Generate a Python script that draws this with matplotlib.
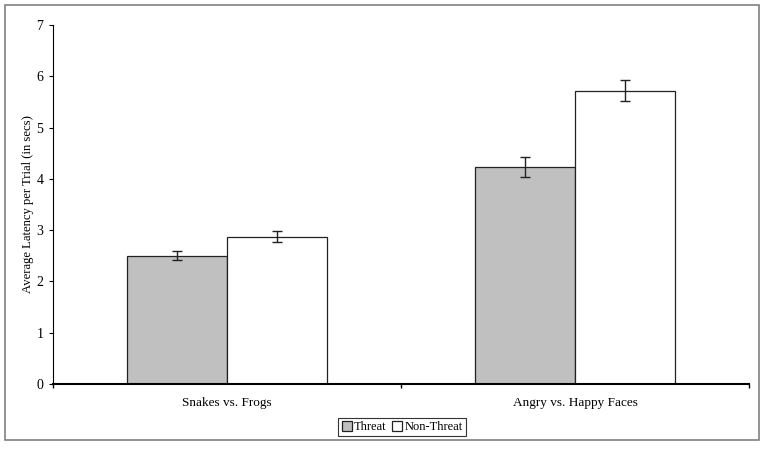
import matplotlib
matplotlib.use("Agg")
import matplotlib.pyplot as plt
from matplotlib.patches import Rectangle
import numpy as np

categories = ["Snakes vs. Frogs", "Angry vs. Happy Faces"]
series = ["Threat", "Non-Threat"]
threat = [2.50, 4.23]
nonthreat = [2.87, 5.72]
threat_err = [0.09, 0.20]
nonthreat_err = [0.11, 0.20]

plt.rcParams['font.family'] = ['Liberation Serif', 'DejaVu Serif']

fig = plt.figure(figsize=(7.64, 4.49), dpi=100)
ax = fig.add_axes([53/764, 65/449, 696/764, 359/449])

x = np.arange(len(categories)) + 0.5
w = 100/348
ax.bar(x - w/2, threat, w, color="#c0c0c0", edgecolor="#222222", linewidth=0.9, label=series[0],
       yerr=threat_err, error_kw=dict(ecolor="#222222", elinewidth=1.0, capsize=3.5, capthick=1.0))
ax.bar(x + w/2, nonthreat, w, color="white", edgecolor="#222222", linewidth=0.9, label=series[1],
       yerr=nonthreat_err, error_kw=dict(ecolor="#222222", elinewidth=1.0, capsize=3.5, capthick=1.0))

ax.set_xlim(0, 2)
ax.set_ylim(0, 7)
ax.set_yticks(range(0, 8))
ax.set_xticks(x)
ax.set_xticklabels(categories, fontsize=9.5)
ax.set_xticks([0, 1, 2], minor=True)
ax.tick_params(axis='x', which='major', length=0, pad=9.5)
ax.tick_params(axis='x', which='minor', length=3, width=1, direction='out')
ax.tick_params(axis='y', length=3, width=0.8, direction='out', labelsize=10, pad=4)
for s in ["top", "right"]:
    ax.spines[s].set_visible(False)
ax.spines["left"].set_linewidth(0.8)
ax.spines["bottom"].set_linewidth(1.5)
ax.set_ylabel("Average Latency per Trial (in secs)", fontsize=9.1, labelpad=1.5)

leg = ax.legend(loc="center", bbox_to_anchor=(402/764, 1 - 427/449), bbox_transform=fig.transFigure,
                ncol=2, fontsize=9, frameon=True, fancybox=False, edgecolor="black",
                handlelength=0.8, handleheight=0.8, handletextpad=0.2, columnspacing=0.4,
                borderpad=0.25, borderaxespad=0)
leg.get_frame().set_linewidth(0.8)

fig.patches.append(Rectangle((5/764, 1 - 440/449), 754/764, 435/449, transform=fig.transFigure,
                             fill=False, edgecolor="#808080", linewidth=1.2))

fig.savefig("out.png", dpi=100)
